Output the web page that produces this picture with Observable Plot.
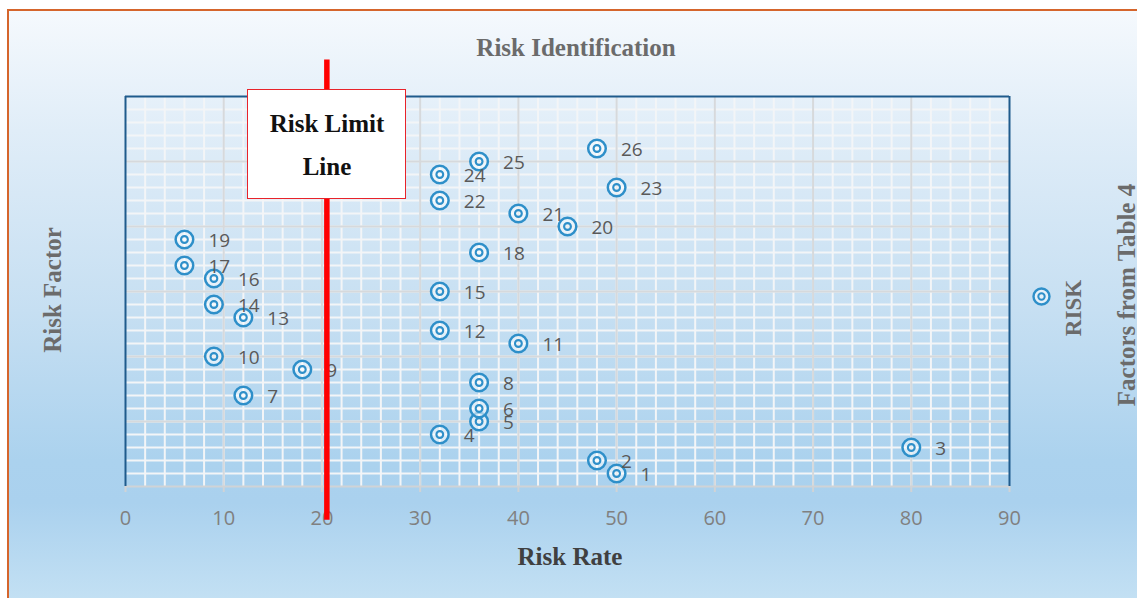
<!DOCTYPE html>
<html>
<head>
<meta charset="utf-8">
<script src="https://cdn.jsdelivr.net/npm/d3@7"></script>
<script src="https://cdn.jsdelivr.net/npm/@observablehq/plot@0.6"></script>
<style>
  html, body { margin: 0; padding: 0; background: #ffffff; }
  #wrap { position: relative; width: 1137px; height: 598px; overflow: hidden; background: #ffffff; }
  #bg { position: absolute; left: 7px; top: 9px; width: 1140px; height: 600px;
        border-left: 2px solid #d5652c; border-top: 2px solid #d5652c;
        background: linear-gradient(to bottom, #f5f9fd 0%, #e0edf8 20%, #c6dff2 50%, #abd2ee 75%, #aad1ee 82%, #c6e2f4 100%); }
  #chart { position: absolute; left: 0; top: 0; }
  .serif { position: absolute; font-family: "Liberation Serif", "Times New Roman", serif; font-weight: bold; white-space: nowrap; line-height: 1; }
  .rot { transform: translate(-50%, -50%) rotate(-90deg); }
  .ctr { transform: translate(-50%, -50%); }
  #limitBox { position: absolute; left: 247px; top: 89px; width: 157px; height: 108px; background: #ffffff; border: 1.5px solid #e8232a; }
</style>
</head>
<body>
<div id="wrap">
  <div id="bg"></div>
  <div id="chart"></div>
  <div class="serif ctr" id="title" style="left:576px; top:47px; font-size:25px; color:#6b6b6b;">Risk Identification</div>
  <div class="serif ctr" style="left:570px; top:556px; font-size:25px; color:#404040;">Risk Rate</div>
  <div class="serif rot" style="left:52px; top:290px; font-size:25px; color:#6b6b6b;">Risk Factor</div>
  <div class="serif rot" style="left:1126px; top:295px; font-size:25px; color:#6b6b6b;">Factors from Table 4</div>
  <svg style="position:absolute; left:1030px; top:285px;" width="23" height="23">
    <circle cx="11.5" cy="11.5" r="8" fill="#ffffff" fill-opacity="0.55" stroke="#2e8fc9" stroke-width="2.4"></circle>
    <circle cx="11.5" cy="11.5" r="3.2" fill="none" stroke="#2e8fc9" stroke-width="2"></circle>
  </svg>
  <div class="serif rot" style="left:1073px; top:308px; font-size:23px; color:#6b6b6b;">RISK</div>
  <div id="limitBox"></div>
  <div class="serif ctr" style="left:327px; top:123px; font-size:25px; color:#111;">Risk Limit</div>
  <div class="serif ctr" style="left:327px; top:166px; font-size:25px; color:#111;">Line</div>
</div>
<script>
// Risk factor numbers (from Table 4) and their risk rates
const factors = [1, 2, 3, 4, 5, 6, 7, 8, 9, 10, 11, 12, 13, 14, 15, 16, 17, 18, 19, 20, 21, 22, 23, 24, 25, 26];
const riskRates = [50, 48, 80, 32, 36, 36, 12, 36, 18, 9, 40, 32, 12, 9, 32, 9, 6, 36, 6, 45, 40, 32, 50, 32, 36, 48];
const xTicks = [0, 10, 20, 30, 40, 50, 60, 70, 80, 90];
const riskLimit = 20.5;
const limitSpan = [-2.6, 32.8];

const data = factors.map((f, i) => ({factor: f, rate: riskRates[i], label: String(f)}));
const xMinor = d3.range(2, 90, 2);
const yMinor = d3.range(1, 30, 1);
const xMajor = xTicks.filter(v => v > 0 && v < 90);
const yMajor = [5, 10, 15, 20, 25];
const blue = "#2e8fc9";

const chart = Plot.plot({
  width: 1137,
  height: 598,
  marginLeft: 125,
  marginRight: 128,
  marginTop: 96,
  marginBottom: 112,
  style: { background: "transparent", overflow: "visible", fontFamily: "'Open Sans', sans-serif" },
  x: { domain: [0, 90] },
  y: { domain: [0, 30], axis: null },
  marks: [
    Plot.ruleX(xMinor, { stroke: "#f3f5f7", strokeWidth: 2 }),
    Plot.ruleY(yMinor, { stroke: "#f3f5f7", strokeWidth: 2 }),
    Plot.ruleX(xMajor, { stroke: "#d6d9dc", strokeWidth: 2 }),
    Plot.ruleY(yMajor, { stroke: "#d6d9dc", strokeWidth: 2 }),
    Plot.ruleY([0], { stroke: "#d0d3d6", strokeWidth: 2 }),
    Plot.axisX({ ticks: xTicks, tickSize: 6, tickPadding: 18, fontSize: 20, stroke: "#d0d3d6", strokeWidth: 2, fill: "#808080", label: null, tickFormat: d => String(d) }),
    Plot.ruleX([0, 90], { stroke: "#1f5b8c", strokeWidth: 2 }),
    Plot.ruleY([30], { stroke: "#1f5b8c", strokeWidth: 2 }),
    Plot.dot(data, { x: "rate", y: "factor", r: 8.8, stroke: blue, strokeWidth: 2.5, fill: "#ffffff", fillOpacity: 0.55 }),
    Plot.dot(data, { x: "rate", y: "factor", r: 3.4, stroke: blue, strokeWidth: 2.1, fill: "none" }),
    Plot.text(data, { x: "rate", y: "factor", text: "label", dx: 24, dy: 1, textAnchor: "start", fontSize: 19, fill: "#595959" }),
    Plot.ruleX([riskLimit], { y1: limitSpan[0], y2: limitSpan[1], stroke: "#ff0000", strokeWidth: 5.5 })
  ]
});
document.getElementById("chart").appendChild(chart);
</script>
</body>
</html>
